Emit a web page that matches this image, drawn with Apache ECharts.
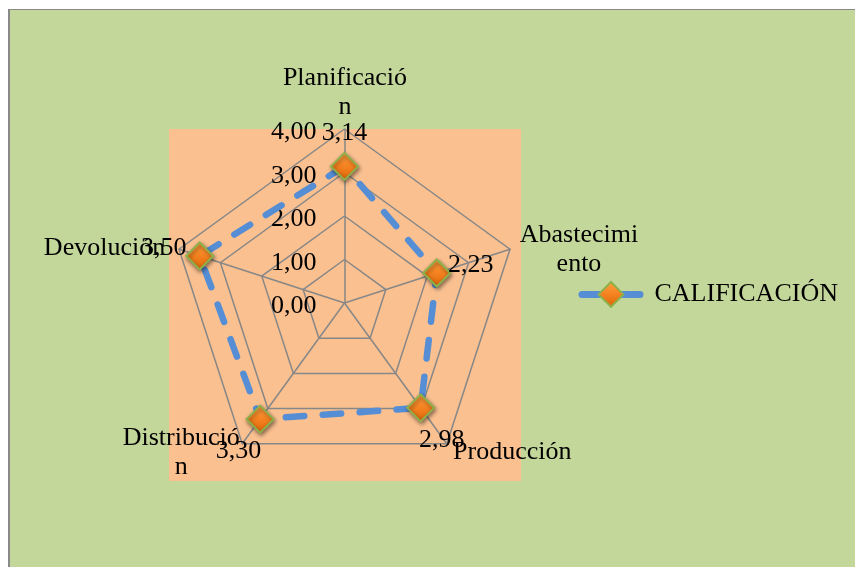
<!DOCTYPE html>
<html>
<head>
<meta charset="utf-8">
<script src="https://cdn.jsdelivr.net/npm/echarts@6/dist/echarts.min.js"></script>
<style>
  html, body { margin: 0; padding: 0; background: #ffffff; }
  #frame {
    position: absolute; left: 8px; top: 9px; width: 900px; height: 600px;
    background: #C4D79B; border-left: 2px solid #898989; border-top: 1px solid #898989;
  }
  #chart { position: absolute; left: 0; top: 0; width: 855px; height: 567px; }
</style>
</head>
<body>
<div id="frame"></div>
<div id="chart"></div>
<script>
// Supply-chain process scores (clockwise from the top)
const categories = ['Planificación', 'Abastecimiento', 'Producción', 'Distribución', 'Devolución'];
const categoryLabels = ['Planificació\nn', 'Abastecimi\nento', 'Producción', 'Distribució\nn', 'Devolución'];
const calificacion = [3.14, 2.23, 2.98, 3.30, 3.50];
const scaleTicks = [0, 1, 2, 3, 4];
const seriesName = 'CALIFICACIÓN';

// Layout tweaks: shift of each axis name from its vertex, and of each value label from its marker
const nameShift = [[0.5, -36.5], [69, 0], [65.5, 8], [-61, 8.7], [-74.5, -1]];
const valueShift = [[0, -33.5], [34, -8], [21, 32], [-21.5, 32.5], [-36, -8]];

const FONT = 'Liberation Serif';
const fmt = v => v.toFixed(2).replace('.', ',');

// ECharts lays radar axes out counter-clockwise; reorder so they read clockwise
const order = [0, 4, 3, 2, 1];
const radarValues = order.map(i => calificacion[i]);

// Padding that moves a centred text token by (dx, dy)
function padFor(dx, dy) {
  return [
    dy > 0 ? 2 * dy : 0,
    dx < 0 ? -2 * dx : 0,
    dy < 0 ? -2 * dy : 0,
    dx > 0 ? 2 * dx : 0
  ];
}

// Rich styles for the axis names
const nameRich = {};
categoryLabels.forEach((lbl, i) => {
  nameRich['n' + i] = {
    fontFamily: FONT, fontSize: 26, lineHeight: 29, color: '#000', align: 'center',
    padding: padFor(nameShift[i][0], nameShift[i][1])
  };
});

// Rich styles for the value labels
const valueRich = {};
categories.forEach((c, i) => {
  valueRich['v' + i] = {
    fontFamily: FONT, fontSize: 26, lineHeight: 28, color: '#000', align: 'center',
    padding: padFor(valueShift[i][0], valueShift[i][1])
  };
});

const markerFill = {
  type: 'linear', x: 0, y: 0, x2: 0, y2: 1,
  colorStops: [{ offset: 0, color: '#FFA040' }, { offset: 0.5, color: '#F58220' }, { offset: 1, color: '#DB6508' }]
};
const lineStyle = { color: '#558ED5', width: 6.5, type: [18.5, 18.5], cap: 'round', join: 'round' };
const itemStyle = {
  color: markerFill, borderColor: '#8DB04A', borderWidth: 2,
  shadowBlur: 4, shadowColor: 'rgba(0,0,0,0.45)', shadowOffsetX: 1, shadowOffsetY: 2
};

const chart = echarts.init(document.getElementById('chart'), null, { renderer: 'canvas' });
chart.setOption({
  backgroundColor: 'transparent',
  animation: false,
  textStyle: { fontFamily: FONT },
  grid: [
    // plot area
    { left: 169, top: 129, width: 352, height: 352, show: true, backgroundColor: '#FAC090', borderWidth: 0 },
    // value scale along the top axis
    { left: 344.5, top: 129, width: 1, height: 174 }
  ],
  xAxis: [
    { gridIndex: 0, type: 'value', show: false },
    { gridIndex: 1, type: 'value', show: false }
  ],
  yAxis: [
    { gridIndex: 0, type: 'value', show: false },
    {
      gridIndex: 1, type: 'value', position: 'left',
      min: scaleTicks[0], max: scaleTicks[scaleTicks.length - 1], interval: 1,
      axisLine: { show: false }, axisTick: { show: false }, splitLine: { show: false },
      axisLabel: {
        margin: 28, color: '#000', fontFamily: FONT, fontSize: 26,
        formatter: v => '{s|' + fmt(v) + '}',
        rich: { s: { fontFamily: FONT, fontSize: 26, lineHeight: 28, color: '#000', padding: [7, 0, 0, 0] } }
      }
    }
  ],
  legend: {
    data: [seriesName],
    left: 573.5, top: 276, itemWidth: 58, itemHeight: 31,
    lineStyle: { color: '#558ED5', width: 7, type: 'solid', cap: 'round' },
    textStyle: { fontFamily: FONT, fontSize: 26, color: '#000', padding: [0, 0, 0, 9.5] }
  },
  radar: {
    center: [344.5, 303],
    radius: 174,
    startAngle: 90,
    shape: 'polygon',
    splitNumber: 4,
    nameGap: 0,
    indicator: order.map(i => ({ name: categoryLabels[i], min: 0, max: 4 })),
    axisName: {
      show: true, color: '#000', align: 'center', verticalAlign: 'middle',
      fontFamily: FONT, fontSize: 26,
      formatter: (name) => {
        const i = categoryLabels.indexOf(name);
        return name.split('\n').map(ln => '{n' + i + '|' + ln + '}').join('\n');
      },
      rich: nameRich
    },
    axisLine: { lineStyle: { color: '#878787', width: 1.5 } },
    splitLine: { lineStyle: { color: '#878787', width: 1.5 } },
    splitArea: { show: false },
    axisTick: { show: false },
    axisLabel: { show: false }
  },
  series: [
    {
      type: 'radar',
      name: 'Calificación por proceso',
      symbol: 'diamond',
      symbolSize: 27,
      lineStyle: lineStyle,
      itemStyle: itemStyle,
      label: {
        show: true, position: 'inside',
        formatter: (p) => {
          const k = radarValues.indexOf(p.value);
          const i = order[k];
          return '{v' + i + '|' + fmt(calificacion[i]) + '}';
        },
        rich: valueRich
      },
      data: [{ name: seriesName, value: radarValues }]
    },
    {
      // legend entry styled like the radar line
      type: 'line',
      name: seriesName,
      xAxisIndex: 1, yAxisIndex: 1,
      data: [],
      symbol: 'diamond',
      lineStyle: lineStyle,
      itemStyle: itemStyle
    }
  ]
});
</script>
</body>
</html>
